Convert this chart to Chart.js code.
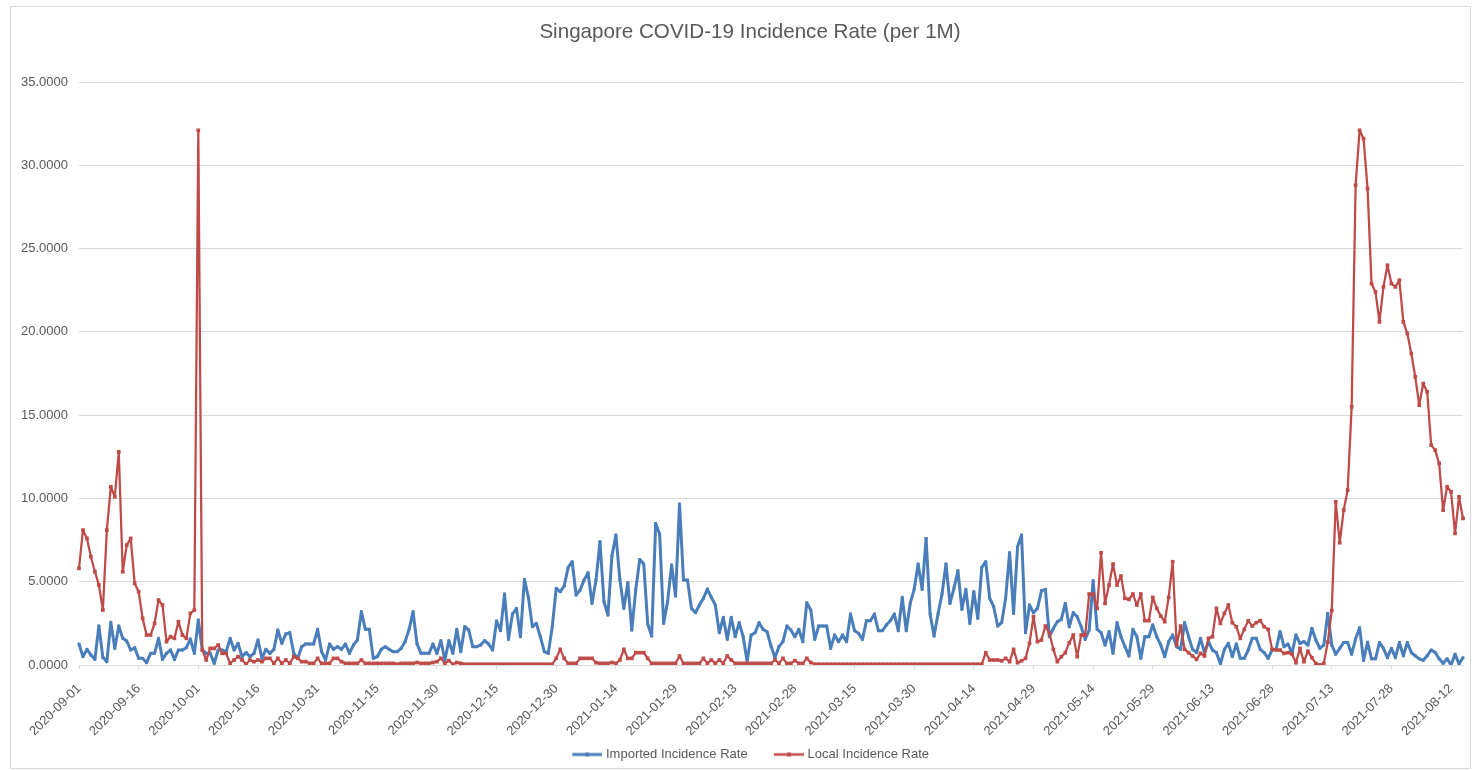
<!DOCTYPE html>
<html>
<head>
<meta charset="utf-8">
<title>Singapore COVID-19 Incidence Rate (per 1M)</title>
<script src="https://cdn.jsdelivr.net/npm/chart.js@4.4.1/dist/chart.umd.min.js"></script>
<style>
  html, body { margin: 0; padding: 0; background: #fff; overflow: hidden; }
  #frame { position: absolute; left: 10px; top: 6px; width: 1461px; height: 763px; border: 1px solid #d9d9d9; box-sizing: border-box; }
  #chart { position: absolute; left: 0; top: 0; }
</style>
</head>
<body>
<div id="frame"></div>
<canvas id="chart" width="1480" height="780"></canvas>
<script>
/* Singapore COVID-19 incidence rate, daily from 2020-09-01 */

const startDate = '2020-09-01';
const tickEvery = 15; // a date label every 15 days
const yMin = 0, yMax = 35, yStep = 5;

const importedRate = [
    1.26, 0.5, 0.94, 0.6, 0.34, 2.34, 0.46, 0.2, 2.56, 1.0,
    2.34, 1.6, 1.44, 0.9, 1.04, 0.4, 0.4, 0.14, 0.7, 0.7,
    1.6, 0.34, 0.7, 0.9, 0.34, 0.9, 0.9, 1.04, 1.56, 0.7,
    2.7, 0.9, 0.7, 0.7, 0.1, 0.9, 0.9, 0.8, 1.6, 0.9,
    1.3, 0.5, 0.74, 0.5, 0.7, 1.5, 0.4, 0.94, 0.7, 0.94,
    2.1, 1.3, 1.86, 1.94, 0.7, 0.4, 1.1, 1.26, 1.26, 1.26,
    2.14, 0.8, 0.3, 1.26, 0.94, 1.1, 0.94, 1.26, 0.7, 1.2,
    1.5, 3.2, 2.14, 2.14, 0.4, 0.5, 0.94, 1.1, 0.94, 0.8,
    0.8, 1.0, 1.4, 2.14, 3.2, 1.26, 0.7, 0.7, 0.7, 1.26,
    0.7, 1.46, 0.3, 1.46, 0.7, 2.14, 0.8, 2.3, 2.1, 1.1,
    1.1, 1.2, 1.46, 1.26, 0.9, 2.64, 2.06, 4.26, 1.54, 3.06,
    3.4, 1.7, 5.14, 4.06, 2.3, 2.5, 1.7, 0.8, 0.7, 2.3,
    4.6, 4.4, 4.74, 5.86, 6.2, 4.2, 4.5, 5.1, 5.54, 3.7,
    5.1, 7.4, 3.8, 3.0, 6.54, 7.8, 5.14, 3.4, 4.94, 2.1,
    4.54, 6.34, 6.06, 2.46, 1.74, 8.5, 7.86, 2.5, 3.8, 6.0,
    4.14, 9.66, 5.1, 5.1, 3.4, 3.14, 3.6, 4.0, 4.56, 4.06,
    3.6, 1.94, 2.86, 1.54, 2.86, 1.7, 2.54, 1.7, 0.2, 1.8,
    1.94, 2.54, 2.14, 2.0, 1.14, 0.45, 1.1, 1.4, 2.34, 2.1,
    1.7, 2.14, 1.4, 3.74, 3.3, 1.54, 2.34, 2.34, 2.34, 1.0,
    1.8, 1.4, 1.8, 1.4, 3.06, 2.06, 1.9, 1.54, 2.66, 2.66,
    3.06, 2.06, 2.06, 2.4, 2.66, 3.06, 2.06, 4.06, 2.06, 3.7,
    4.54, 6.06, 4.54, 7.6, 3.06, 1.74, 3.06, 4.26, 6.06, 3.7,
    4.6, 5.66, 3.34, 4.54, 2.5, 4.4, 2.8, 5.86, 6.2, 4.0,
    3.5, 2.34, 2.54, 4.0, 6.74, 3.1, 7.1, 7.8, 1.94, 3.6,
    3.14, 3.4, 4.46, 4.54, 1.7, 2.2, 2.6, 2.74, 3.7, 2.3,
    3.14, 2.9, 2.3, 1.54, 2.1, 5.06, 2.14, 1.94, 1.2, 2.0,
    0.7, 2.54, 1.7, 1.1, 0.54, 2.14, 1.7, 0.4, 1.7, 1.7,
    2.4, 1.7, 1.2, 0.5, 1.4, 1.8, 1.1, 0.94, 2.54, 1.7,
    0.94, 0.74, 1.6, 0.74, 1.4, 0.9, 0.74, 0.06, 0.94, 1.3,
    0.5, 1.26, 0.4, 0.4, 0.9, 1.6, 1.6, 0.94, 0.74, 0.4,
    0.9, 0.94, 2.0, 1.1, 1.26, 0.7, 1.8, 1.3, 1.4, 1.2,
    2.2, 1.5, 1.0, 1.2, 3.1, 1.2, 0.65, 1.0, 1.35, 1.35,
    0.65, 1.57, 2.24, 0.28, 1.37, 0.37, 0.37, 1.35, 1.0, 0.44,
    1.0, 0.44, 1.35, 0.55, 1.35, 0.76, 0.55, 0.37, 0.28, 0.55,
    0.9, 0.76, 0.37, 0.1, 0.37, 0.0, 0.65, 0.07, 0.44
];

const localRate = [
    5.8, 8.1, 7.6, 6.5, 5.6, 4.8, 3.3, 8.1, 10.7, 10.1,
    12.8, 5.6, 7.2, 7.6, 4.9, 4.4, 2.8, 1.8, 1.8, 2.5,
    3.9, 3.6, 1.4, 1.7, 1.6, 2.6, 1.8, 1.6, 3.1, 3.3,
    32.1, 0.9, 0.3, 1.0, 1.0, 1.2, 0.7, 0.7, 0.1, 0.3,
    0.5, 0.3, 0.05, 0.3, 0.2, 0.3, 0.2, 0.4, 0.4, 0.1,
    0.4, 0.1, 0.3, 0.1, 0.5, 0.4, 0.2, 0.2, 0.1, 0.1,
    0.4, 0.1, 0.1, 0.1, 0.4, 0.4, 0.2, 0.1, 0.1, 0.1,
    0.1, 0.3, 0.1, 0.1, 0.1, 0.1, 0.1, 0.1, 0.1, 0.1,
    0.05, 0.1, 0.1, 0.1, 0.1, 0.15, 0.1, 0.1, 0.1, 0.15,
    0.2, 0.4, 0.1, 0.26, 0.05, 0.15, 0.1, 0.05, 0.05, 0.05,
    0.05, 0.05, 0.05, 0.05, 0.05, 0.05, 0.05, 0.05, 0.05, 0.05,
    0.05, 0.05, 0.05, 0.05, 0.05, 0.05, 0.05, 0.05, 0.05, 0.05,
    0.4, 0.94, 0.4, 0.1, 0.1, 0.1, 0.4, 0.4, 0.4, 0.4,
    0.14, 0.1, 0.1, 0.1, 0.15, 0.1, 0.3, 0.94, 0.4, 0.4,
    0.74, 0.74, 0.74, 0.4, 0.1, 0.1, 0.1, 0.1, 0.1, 0.1,
    0.1, 0.54, 0.1, 0.1, 0.1, 0.1, 0.1, 0.4, 0.1, 0.3,
    0.1, 0.3, 0.1, 0.54, 0.3, 0.1, 0.1, 0.1, 0.1, 0.1,
    0.1, 0.1, 0.1, 0.1, 0.1, 0.3, 0.1, 0.4, 0.1, 0.1,
    0.26, 0.1, 0.1, 0.4, 0.15, 0.05, 0.05, 0.05, 0.05, 0.05,
    0.05, 0.05, 0.05, 0.05, 0.05, 0.05, 0.05, 0.05, 0.05, 0.05,
    0.05, 0.05, 0.05, 0.05, 0.05, 0.05, 0.05, 0.05, 0.05, 0.05,
    0.05, 0.05, 0.05, 0.05, 0.05, 0.05, 0.05, 0.05, 0.05, 0.05,
    0.05, 0.05, 0.05, 0.05, 0.05, 0.05, 0.05, 0.05, 0.74, 0.3,
    0.3, 0.3, 0.25, 0.4, 0.2, 0.94, 0.14, 0.25, 0.4, 1.3,
    2.9, 1.4, 1.5, 2.34, 1.9, 0.94, 0.2, 0.5, 0.74, 1.34,
    1.8, 0.5, 1.8, 1.8, 4.26, 4.26, 3.4, 6.74, 3.7, 4.8,
    6.06, 4.8, 5.34, 4.0, 3.94, 4.26, 3.6, 4.26, 2.66, 2.66,
    4.06, 3.4, 2.94, 2.6, 4.06, 6.2, 1.2, 2.34, 0.94, 0.74,
    0.54, 0.34, 0.7, 0.54, 1.6, 1.7, 3.4, 2.5, 3.1, 3.6,
    2.54, 2.3, 1.6, 2.14, 2.66, 2.34, 2.54, 2.66, 2.3, 2.14,
    0.94, 0.9, 0.9, 0.7, 0.74, 0.66, 0.14, 1.0, 0.2, 0.83,
    0.44, 0.1, 0.0, 0.1, 1.37, 3.27, 9.8, 7.34, 9.3, 10.5,
    15.5, 28.8, 32.1, 31.6, 28.6, 22.9, 22.4, 20.6, 22.7, 24.0,
    22.9, 22.7, 23.1, 20.6, 19.9, 18.7, 17.3, 15.6, 16.9, 16.4,
    13.2, 12.9, 12.1, 9.3, 10.7, 10.4, 7.9, 10.1, 8.8
];

const seriesNames = ['Imported Incidence Rate', 'Local Incidence Rate'];
const seriesColors = ['#4a7ebb', '#be4b48'];

// one label per day
const dates = importedRate.map((_, i) => {
    const d = new Date(startDate + 'T00:00:00Z');
    d.setUTCDate(d.getUTCDate() + i);
    return d.toISOString().slice(0, 10);
});

// legend icon: line with a small square in the middle (excel style)
// the empty left part of the canvas gives the gap between legend items
function legendIcon(color, lw) {
    const c = document.createElement('canvas');
    c.width = 56; c.height = 8;
    const g = c.getContext('2d');
    g.strokeStyle = color;
    g.lineWidth = lw;
    g.beginPath(); g.moveTo(26, 4); g.lineTo(56, 4); g.stroke();
    g.fillStyle = color;
    g.fillRect(39, 2, 4, 4);
    return c;
}
const legendIcons = [legendIcon(seriesColors[0], 3), legendIcon(seriesColors[1], 2.5)];

// nudge the legend left so the visible part is centred like the title
const legendShift = {
    id: 'legendShift',
    afterLayout(chart) {
        chart.legend.left -= 11;
        chart.legend.right -= 11;
    }
};

Chart.defaults.font.family = '"Liberation Sans", Arial, sans-serif';
Chart.defaults.color = '#595959';

new Chart(document.getElementById('chart'), {
    type: 'line',
    data: {
        labels: dates,
        datasets: [
            { label: seriesNames[0], data: importedRate, borderColor: seriesColors[0], backgroundColor: seriesColors[0],
              borderWidth: 3, pointStyle: 'rect', pointRadius: 2, pointBorderWidth: 0, tension: 0,
              borderJoinStyle: 'round', order: 2 },
            { label: seriesNames[1], data: localRate, borderColor: seriesColors[1], backgroundColor: seriesColors[1],
              borderWidth: 2.25, pointStyle: 'rect', pointRadius: 2.6, pointBorderWidth: 0, tension: 0,
              borderJoinStyle: 'round', order: 1 }
        ]
    },
    options: {
        responsive: false,
        animation: false,
        devicePixelRatio: 1,
        layout: { padding: { left: 20, right: 0, top: 0, bottom: 9 } },
        plugins: {
            title: {
                display: true,
                text: 'Singapore COVID-19 Incidence Rate (per 1M)',
                color: '#595959',
                font: { size: 20.6, weight: 'normal' },
                padding: { top: 20, bottom: 37.3 }
            },
            legend: {
                position: 'bottom',
                labels: {
                    usePointStyle: true,
                    pointStyleWidth: 50.5,
                    padding: 3,
                    color: '#595959',
                    font: { size: 13 },
                    generateLabels(chart) {
                        return Chart.defaults.plugins.legend.labels.generateLabels(chart)
                            .map(item => ({ ...item, pointStyle: legendIcons[item.datasetIndex] }));
                    },
                    sort: (a, b) => a.datasetIndex - b.datasetIndex
                }
            },
            tooltip: { enabled: false }
        },
        scales: {
            x: {
                offset: false,
                border: { display: true, color: '#d9d9d9' },
                grid: { drawOnChartArea: false, drawTicks: true, tickLength: 4, color: '#d9d9d9' },
                ticks: {
                    autoSkip: false, minRotation: 45, maxRotation: 45, padding: 12,
                    color: '#595959', font: { size: 13 },
                    callback: (v, i) => (i % tickEvery === 0 ? dates[i] : null)
                },
                afterFit(s) { s.height = 80; }
            },
            y: {
                min: yMin, max: yMax,
                border: { display: false },
                grid: { color: '#d9d9d9', drawTicks: false },
                ticks: { stepSize: yStep, padding: 11, color: '#595959', font: { size: 13 }, callback: v => v.toFixed(4) },
                afterFit(s) { s.width = 59; }
            },
            yPad: {
                position: 'right', min: yMin, max: yMax,
                grid: { display: false }, border: { display: false }, ticks: { display: false },
                afterFit(s) { s.width = 17; }
            }
        }
    },
    plugins: [legendShift]
});
</script>
</body>
</html>
